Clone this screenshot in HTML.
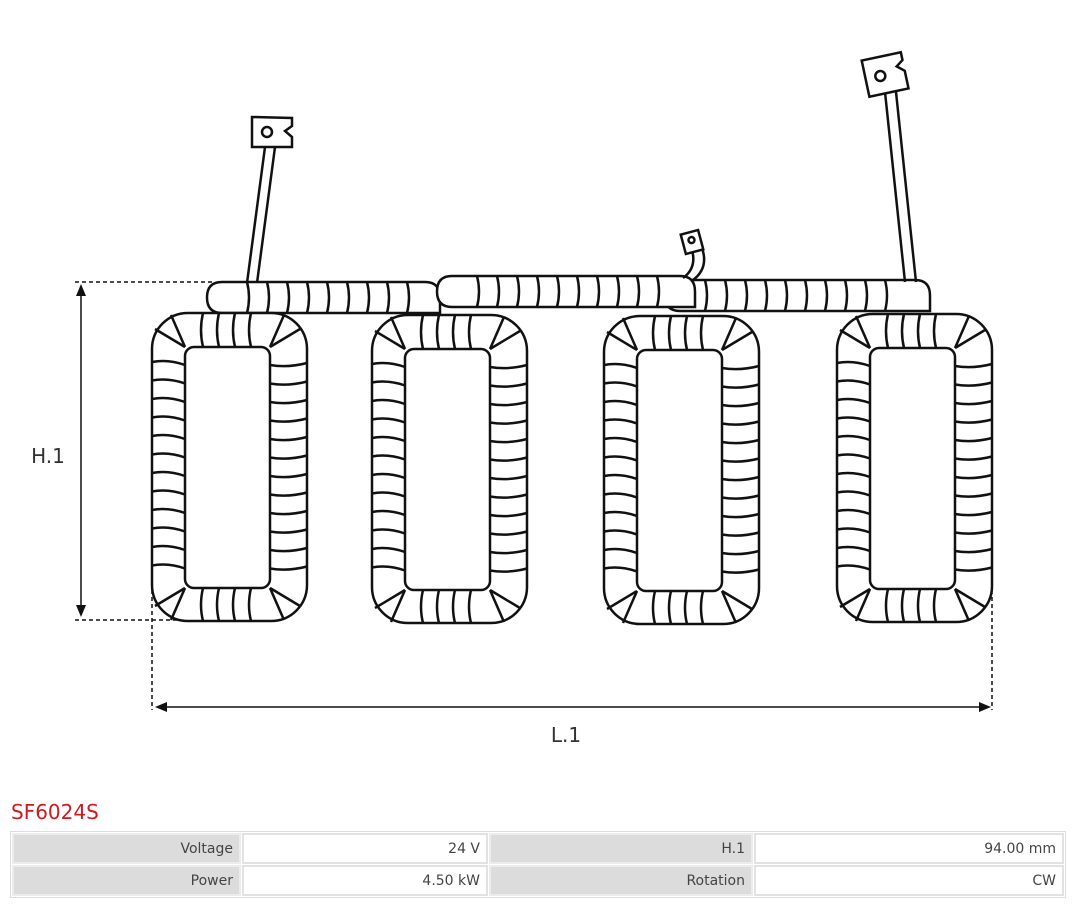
<!DOCTYPE html>
<html><head><meta charset="utf-8"><style>
body{margin:0;width:1080px;height:904px;background:#fff;font-family:"Liberation Sans","DejaVu Sans",sans-serif;overflow:hidden}
svg{position:absolute;left:0;top:0}
.t{position:absolute;left:11px;top:800px;color:#d0181e;font-size:20px;font-family:"DejaVu Sans",sans-serif}
table{position:absolute;left:10px;top:831px;width:1056px;border-collapse:separate;border-spacing:1px;border:1px solid #ddd;background:#fff;font-family:"DejaVu Sans",sans-serif;font-size:14px;color:#444}
td{height:31px;padding:0 6px;text-align:right;border:2px solid #e2e2e2;box-sizing:border-box}
td.l{background:#dcdcdc;border-color:#ececec}
</style></head><body>
<svg id="s" width="1080" height="904" viewBox="0 0 1080 904" fill="none" stroke="#111" stroke-width="2.5"></svg>
<div class="t">SF6024S</div>
<table>
<tr><td class="l" style="width:229px">Voltage</td><td style="width:246px">24 V</td><td class="l" style="width:264px">H.1</td><td>94.00 mm</td></tr>
<tr><td class="l">Power</td><td>4.50 kW</td><td class="l">Rotation</td><td>CW</td></tr>
</table>
<script>
var s='';
function bus(x1,x2,y1,y2){s+='<path d="M'+(x1+15)+' '+y2+' Q'+x1+' '+y2+' '+x1+' '+((y1+y2)/2)+' Q'+x1+' '+y1+' '+(x1+15)+' '+y1+' L'+(x2-15)+' '+y1+' Q'+x2+' '+y1+' '+x2+' '+((y1+y2)/2)+' L'+x2+' '+y2+' Z" fill="#fff"/>';
 for(var x=x1+40;x<x2-25;x+=20)s+='<path d="M'+x+' '+y1+' q4 '+((y2-y1)/2)+' 0 '+(y2-y1)+'"/>';}
bus(207,440,282,313);bus(665,930,280,311);bus(437,695,276,307);
s+='<path d="M247 283 L265 147 M257 283 L275 147" />';
s+='<path d="M252 117 L292 118 L292 126 L285 131 L292 137 L292 147 L252 147 Z" fill="#fff"/><circle cx="267" cy="132" r="5"/>';
s+='<path d="M905 282 L885 92 M916 282 L896 92" />';
s+='<g transform="rotate(-12 885 74)"><path d="M865 56 L905 56 L905 64 L898 69 L905 75 L905 93 L865 93 Z" fill="#fff"/><circle cx="880" cy="75" r="5"/></g>';
s+='<path d="M683 278 Q697 268 692 250 M693 280 Q709 268 702 248"/>';
s+='<g transform="rotate(-15 692 242)"><rect x="683" y="232" width="18" height="20" fill="#fff"/><circle cx="692" cy="240" r="3"/></g>';
function coil(x,y){var W=155,H=308,ix=x+33,iy=y+34,iw=85,ih=241;
 s+='<rect x="'+x+'" y="'+y+'" width="'+W+'" height="'+H+'" rx="36" fill="#fff"/>';
 s+='<rect x="'+ix+'" y="'+iy+'" width="'+iw+'" height="'+ih+'" rx="9"/>';
 for(var yy=iy+18;yy<iy+ih-10;yy+=18.5){s+='<path d="M'+x+' '+(yy-3)+' Q'+(x+16)+' '+(yy-6)+' '+ix+' '+yy+'"/>';
  s+='<path d="M'+(ix+iw)+' '+yy+' Q'+(ix+iw+18)+' '+(yy+3)+' '+(x+W)+' '+(yy-2)+'"/>';}
 for(var xx=ix+18;xx<ix+iw-8;xx+=16){s+='<path d="M'+xx+' '+iy+' q-4 -17 0 -34"/><path d="M'+xx+' '+(iy+ih)+' q-4 17 0 33"/>';}
 var c=[[ix,iy,-1,-1],[ix+iw,iy,1,-1],[ix,iy+ih,-1,1],[ix+iw,iy+ih,1,1]];
 c.forEach(function(p){s+='<path d="M'+p[0]+' '+p[1]+' l'+(p[2]*30)+' '+(p[3]*18)+'"/><path d="M'+p[0]+' '+p[1]+' l'+(p[2]*14)+' '+(p[3]*32)+'"/>';});}
coil(152,313);coil(372,315);coil(604,316);coil(837,314);
s+='<g stroke-width="1.5" stroke-dasharray="4 3"><path d="M75 282 H215 M75 620 H180 M152 590 V710 M992 590 V710"/></g>';
s+='<g stroke-width="1.5"><path d="M81 290 V612 M162 707 H984"/></g>';
s+='<g fill="#111" stroke="none"><path d="M81 284 l-5 12 h10z M81 617 l-5 -12 h10z M155 707 l12 -5 v10z M991 707 l-12 -5 v10z"/></g>';
s+='<text x="48" y="463" font-size="20" fill="#333" stroke="none" text-anchor="middle" font-family="DejaVu Sans,sans-serif">H.1</text>';
s+='<text x="566" y="742" font-size="20" fill="#333" stroke="none" text-anchor="middle" font-family="DejaVu Sans,sans-serif">L.1</text>';
document.getElementById('s').innerHTML=s;
</script>
</body></html>
